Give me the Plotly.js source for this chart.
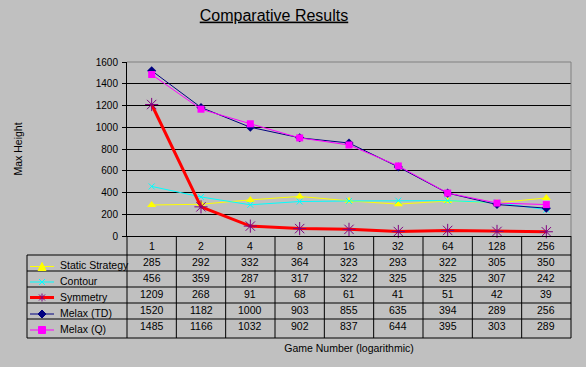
<!DOCTYPE html>
<html>
<head>
<meta charset="utf-8">
<script src="https://cdn.plot.ly/plotly-3.0.1.min.js"></script>
<style>html,body{margin:0;padding:0;background:#c0c0c0;}#chart{width:586px;height:367px;}</style>
</head>
<body>
<div id="chart"></div>
<script>
// ---- data ----
const categories = ['1','2','4','8','16','32','64','128','256'];
const seriesNames = ['Static Strategy','Contour','Symmetry','Melax (TD)','Melax (Q)'];
const staticStrategy = [285, 292, 332, 364, 323, 293, 322, 305, 350];
const contour        = [456, 359, 287, 317, 322, 325, 325, 307, 242];
const symmetry       = [1209, 268, 91, 68, 61, 41, 51, 42, 39];
const melaxTD        = [1520, 1182, 1000, 903, 855, 635, 394, 289, 256];
const melaxQ         = [1485, 1166, 1032, 902, 837, 644, 395, 303, 289];
const yTicks = [0,200,400,600,800,1000,1200,1400,1600];

// ---- styling ----
const W = 586, H = 367;
const X = px => px / W;
const Y = py => 1 - py / H;
const FONT = 'Liberation Sans, Arial, sans-serif';
const BG = '#c0c0c0';

const allSeries = [staticStrategy, contour, symmetry, melaxTD, melaxQ];
const styles = [
  {line:{color:'#ffff00', width:1}, marker:{symbol:'triangle-up', size:8, color:'#ffff00'}},
  {line:{color:'#00ffff', width:1}, marker:{symbol:'x-thin-open', size:6, color:'#00ffff', line:{color:'#00ffff', width:1}}},
  {line:{color:'#ff0000', width:3}, marker:{symbol:'asterisk-open', size:11, color:'#800080', line:{color:'#800080', width:1}}},
  {line:{color:'#000080', width:1}, marker:{symbol:'diamond', size:7, color:'#000080'}},
  {line:{color:'#ff00ff', width:1}, marker:{symbol:'square', size:7, color:'#ff00ff'}}
];

const traces = allSeries.map((vals, i) => ({
  type:'scatter', mode:'lines+markers', name: seriesNames[i],
  x: categories, y: vals,
  line: styles[i].line, marker: styles[i].marker,
  showlegend:false, cliponaxis:false
}));

// ---- table geometry (pixels) ----
const plotL = 127, plotR = 571, plotT = 62, plotB = 236;
const legL = 27;
const rowLines = [255, 271, 287, 303, 319, 338];
const headerY = 245.5;
const valueY = [262, 278, 294, 310, 326];
const legTextY = [265, 281, 297, 313, 329];
const colW = (plotR - plotL) / categories.length;

const shapes = [];
const blk = {color:'#000000', width:1};
// top and right gray border of plot area
shapes.push({type:'line', xref:'paper', yref:'paper', x0:X(plotL), x1:X(plotR), y0:Y(plotT), y1:Y(plotT), line:{color:'#808080', width:1}});
shapes.push({type:'line', xref:'paper', yref:'paper', x0:X(plotR), x1:X(plotR), y0:Y(plotT), y1:Y(plotB), line:{color:'#808080', width:1}});
// table vertical lines
for (let i = 0; i <= categories.length; i++) {
  const xx = plotL + i * colW;
  shapes.push({type:'line', xref:'paper', yref:'paper', x0:X(xx), x1:X(xx), y0:Y(plotB), y1:Y(rowLines[rowLines.length-1]), line:blk});
}
// left border of legend column
shapes.push({type:'line', xref:'paper', yref:'paper', x0:X(legL), x1:X(legL), y0:Y(rowLines[0]), y1:Y(rowLines[rowLines.length-1]), line:blk});
// horizontal lines
rowLines.forEach(r => shapes.push({type:'line', xref:'paper', yref:'paper', x0:X(legL), x1:X(plotR), y0:Y(r), y1:Y(r), line:blk}));

// legend samples
const sx0 = 30, sx1 = 54, sc = 42;
const legMarkY = [266.5, 282, 297.5, 314, 330];
allSeries.forEach((_, i) => {
  const yy = legMarkY[i];
  shapes.push({type:'line', xref:'paper', yref:'paper', x0:X(sx0), x1:X(sx1), y0:Y(yy), y1:Y(yy), line:{color:styles[i].line.color, width:styles[i].line.width}});
});
const P = (pts) => 'M' + pts.map(p => X(p[0]) + ',' + Y(p[1])).join(' L') + ' Z';
// triangle
let yy = legMarkY[0];
shapes.push({type:'path', xref:'paper', yref:'paper', path:P([[sc-4,yy+4],[sc+4,yy+4],[sc,yy-4]]), fillcolor:'#ffff00', line:{color:'#ffff00', width:1}});
// x
yy = legMarkY[1];
shapes.push({type:'line', xref:'paper', yref:'paper', x0:X(sc-3), x1:X(sc+3), y0:Y(yy-3), y1:Y(yy+3), line:{color:'#00ffff', width:1}});
shapes.push({type:'line', xref:'paper', yref:'paper', x0:X(sc-3), x1:X(sc+3), y0:Y(yy+3), y1:Y(yy-3), line:{color:'#00ffff', width:1}});
// asterisk
yy = legMarkY[2];
shapes.push({type:'line', xref:'paper', yref:'paper', x0:X(sc-3), x1:X(sc+3), y0:Y(yy-3), y1:Y(yy+3), line:{color:'#800080', width:1}});
shapes.push({type:'line', xref:'paper', yref:'paper', x0:X(sc-3), x1:X(sc+3), y0:Y(yy+3), y1:Y(yy-3), line:{color:'#800080', width:1}});
shapes.push({type:'line', xref:'paper', yref:'paper', x0:X(sc), x1:X(sc), y0:Y(yy-4), y1:Y(yy+4), line:{color:'#800080', width:1}});
// diamond
yy = legMarkY[3];
shapes.push({type:'path', xref:'paper', yref:'paper', path:P([[sc-4,yy],[sc,yy-4],[sc+4,yy],[sc,yy+4]]), fillcolor:'#000080', line:{color:'#000080', width:1}});
// square
yy = legMarkY[4];
shapes.push({type:'rect', xref:'paper', yref:'paper', x0:X(sc-3.5), x1:X(sc+3.5), y0:Y(yy-3.5), y1:Y(yy+3.5), fillcolor:'#ff00ff', line:{color:'#ff00ff', width:1}});

// annotations: table text
const annotations = [];
const tf = {family:FONT, size:10.5, color:'#000000'};
categories.forEach((c, j) => {
  annotations.push({xref:'x', yref:'paper', x:j, y:Y(headerY), text:c, showarrow:false, font:tf, xanchor:'center', yanchor:'middle'});
  allSeries.forEach((vals, i) => {
    annotations.push({xref:'x', yref:'paper', x:j, y:Y(valueY[i]), text:String(vals[j]), showarrow:false, font:tf, xanchor:'center', yanchor:'middle'});
  });
});
seriesNames.forEach((n, i) => {
  annotations.push({xref:'paper', yref:'paper', x:X(58), y:Y(legTextY[i]), text:n, showarrow:false, font:tf, xanchor:'left', yanchor:'middle'});
});

const layout = {
  width: W, height: H,
  margin:{l:0, r:0, t:0, b:0, pad:0},
  paper_bgcolor: BG, plot_bgcolor: BG,
  font:{family:FONT, size:10.5, color:'#000000'},
  title:{text:'<u>Comparative Results</u>', font:{family:FONT, size:16, color:'#000000'}, x:X(274), xanchor:'center', xref:'paper', y:Y(15), yref:'container', yanchor:'middle'},
  xaxis:{
    type:'category', domain:[X(plotL), X(plotR)], range:[-0.5, categories.length - 0.5],
    showticklabels:false, ticks:'', showgrid:false, zeroline:false,
    showline:true, linecolor:'#000000', linewidth:1, fixedrange:true,
    title:{text:'Game Number (logarithmic)', font:{family:FONT, size:10.5, color:'#000000'}, standoff:108}
  },
  yaxis:{
    domain:[Y(plotB), Y(plotT)], range:[0, 1600], tickvals:yTicks,
    ticks:'outside', ticklen:4, tickcolor:'#000000', tickwidth:1,
    tickfont:{family:FONT, size:10, color:'#000000'}, ticklabelstandoff:2,
    showgrid:true, gridcolor:'#000000', gridwidth:1, zeroline:false,
    showline:true, linecolor:'#000000', linewidth:1, fixedrange:true,
    title:{text:'Max Height', font:{family:FONT, size:10.5, color:'#000000'}, standoff:71}
  },
  shapes: shapes,
  annotations: annotations
};

Plotly.newPlot('chart', traces, layout, {displayModeBar:false, staticPlot:true});
</script>
</body>
</html>
